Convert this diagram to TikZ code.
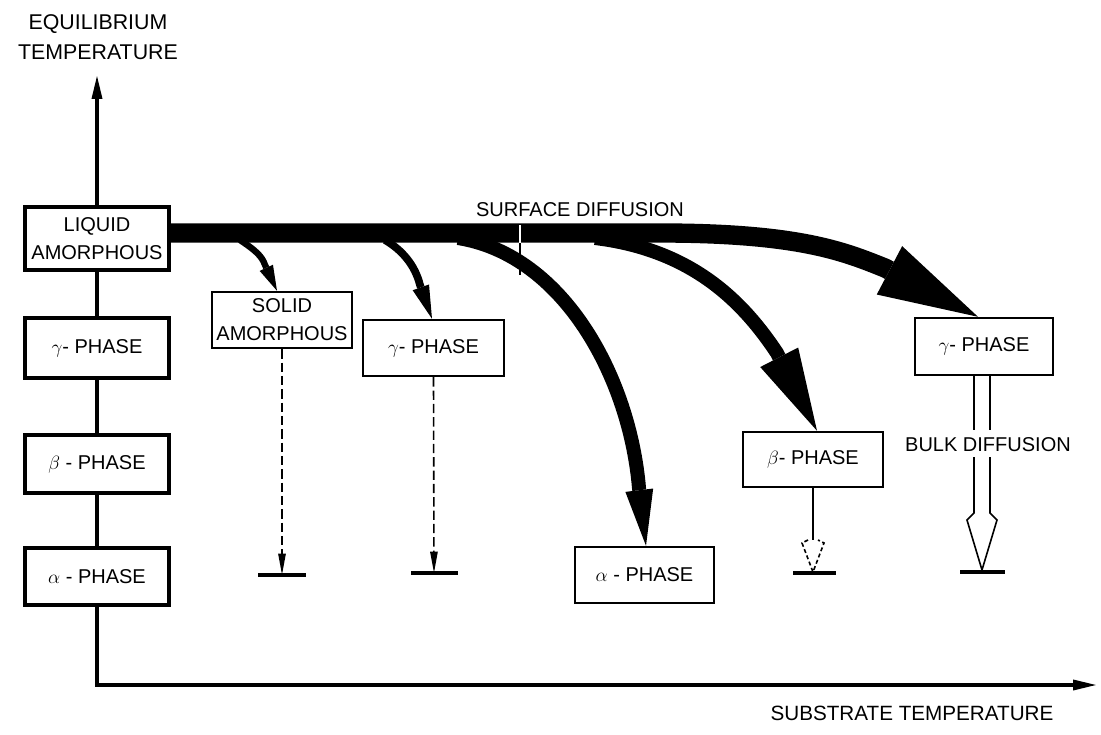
\documentclass[tikz,border=0pt]{standalone}
\usepackage{fontspec}
\setmainfont{Liberation Sans}
\usetikzlibrary{arrows.meta,calc}
\begin{document}
\begin{tikzpicture}[x=0.75pt,y=-0.75pt,
  lbox/.style={draw, line width=2.8pt, fill=white, inner sep=0pt, align=center,
    font=\fontsize{15}{21}\selectfont, minimum width=108pt},
  pbox/.style={draw, line width=1.8pt, fill=white, inner sep=0pt, align=center,
    font=\fontsize{15}{21}\selectfont},
  lbl/.style={font=\fontsize{15}{18}\selectfont, inner sep=0pt},
  axis/.style={line width=2.6pt, line join=miter},
  ground/.style={line width=2.4pt},
  thinln/.style={line width=1.2pt},
  dashln/.style={line width=1.2pt, dash pattern=on 7pt off 3pt},
  flow/.style={line cap=butt, line join=round}
]
\useasboundingbox (0,0) rectangle (1101,735);

% axes
\coordinate (ytop) at (97,75);
\coordinate (orig) at (97,685);
\coordinate (xend) at (1097,685);
\draw[axis, {Triangle[length=18pt,width=7.5pt]}-{Triangle[length=18pt,width=7.5pt]}] (ytop) -- (orig) -- (xend);
\node[font=\fontsize{16}{22}\selectfont, align=center, inner sep=0pt] (ylab) at (98,37) {EQUILIBRIUM\\TEMPERATURE};
\node[font=\fontsize{15.5}{18}\selectfont, inner sep=0pt] (xlab) at (912,713) {SUBSTRATE TEMPERATURE};

% left column
\node[lbox, minimum height=47pt] (liq) at (97,238.5) {LIQUID\\AMORPHOUS};
\node[lbox, minimum height=45pt] (g1) at (97,348) {$\gamma$- PHASE};
\node[lbox, minimum height=43.5pt] (b1) at (97,464) {$\beta$ - PHASE};
\node[lbox, minimum height=42.75pt] (a1) at (97,576.5) {$\alpha$ - PHASE};

% product boxes
\node[pbox, minimum width=105pt, minimum height=42pt] (sol) at (282,320) {SOLID\\AMORPHOUS};
\node[pbox, minimum width=105.75pt, minimum height=42pt] (g2) at (433.5,348) {$\gamma$- PHASE};
\node[pbox, minimum width=104.25pt, minimum height=42pt] (a2) at (644.5,575) {$\alpha$ - PHASE};
\node[pbox, minimum width=105pt, minimum height=41.25pt] (b2) at (813,459.5) {$\beta$- PHASE};
\node[pbox, minimum width=103.5pt, minimum height=42.75pt] (g3) at (984,346.5) {$\gamma$- PHASE};

\node[lbl] (surf) at (580,210) {SURFACE DIFFUSION};
\node[lbl] (bulk) at (988,445) {BULK DIFFUSION};

% branch points on the band
\coordinate (s1) at (240,240);
\coordinate (s2) at (385,240);
\coordinate (s3) at (458,238);
\coordinate (s4) at (595,238);

% alpha branch
\draw[flow, line width=10.5pt, -{Triangle[length=42pt,width=21pt,line width=0pt]}]
  (s3) .. controls (565,255) and (630,380) .. (639,488) -- ($(a2.north)+(1.5,0)$);
% beta branch
\draw[flow, line width=10.5pt, -{Triangle[length=62pt,width=32pt,line width=0pt]}]
  (s4) .. controls (695,250) and (745,305) .. (777,353) -- ($(b2.north)+(4,0)$);
% main band to gamma
\draw[flow, line width=14.5pt, -{Triangle[length=75pt,width=41pt,line width=0pt]}]
  ($(liq.east)+(0,-5.5)$) -- (660,233) .. controls (800,233) and (845,252) .. (885,268) -- ($(g3.north)+(-6,0)$);
% small branches
\draw[flow, line width=4.8pt, -{Triangle[length=19pt,width=11pt,line width=0pt]}]
  (s1) .. controls (255,250) and (262,256) .. (265,265) -- ($(sol.north)+(-5,0)$);
\draw[flow, line width=5.8pt, -{Triangle[length=25pt,width=13pt,line width=0pt]}]
  (s2) .. controls (402,250) and (415,265) .. (420,285) -- ($(g2.north)+(-1.5,0)$);

% tick on the band
\coordinate (tk1) at (520,225);
\coordinate (tk2) at (520,243);
\coordinate (tk3) at (520,275);
\draw[line width=1.2pt] (tk2) -- (tk3);
\draw[white, line width=1.2pt] (tk1) -- (tk2);

% dashed descents
\coordinate (t1) at (282,575);
\coordinate (t2) at (434,573);
\draw[dashln, -{Triangle[length=16pt,width=5.5pt]}] (sol.south) -- (t1);
\draw[ground] ($(t1)+(-24,0)$) -- ($(t1)+(24,0)$);
\draw[dashln, -{Triangle[length=16pt,width=5.5pt]}] (g2.south) -- (t2);
\draw[ground] ($(t2)+(-23,0)$) -- ($(t2)+(24,0)$);

% beta descent
\coordinate (bq) at (813,540);
\coordinate (t3) at (813,573);
\draw[thinln] (b2.south) -- (bq);
\draw[thinln, dash pattern=on 3pt off 2pt] ($(bq)+(-5,0)$) -- ($(bq)+(-11,3)$) -- ($(t3)+(0,-1)$) -- ($(bq)+(11,3)$) -- ($(bq)+(5,0)$);
\draw[ground] ($(t3)+(-20,0)$) -- ($(t3)+(23,0)$);

% bulk diffusion
\coordinate (bl) at (974,0);
\coordinate (br) at (990,0);
\coordinate (t4) at (982,570);
\draw[thinln] (g3.south -| bl) -- (974,430);
\draw[thinln] (g3.south -| br) -- (990,430);
\draw[thinln, line join=miter] (974,457) -- (974,513) -- (967,520) -- (t4) -- (997,520) -- (990,513) -- (990,457);
\draw[ground] ($(t4)+(-22,2)$) -- ($(t4)+(23,2)$);
\end{tikzpicture}
\end{document}
